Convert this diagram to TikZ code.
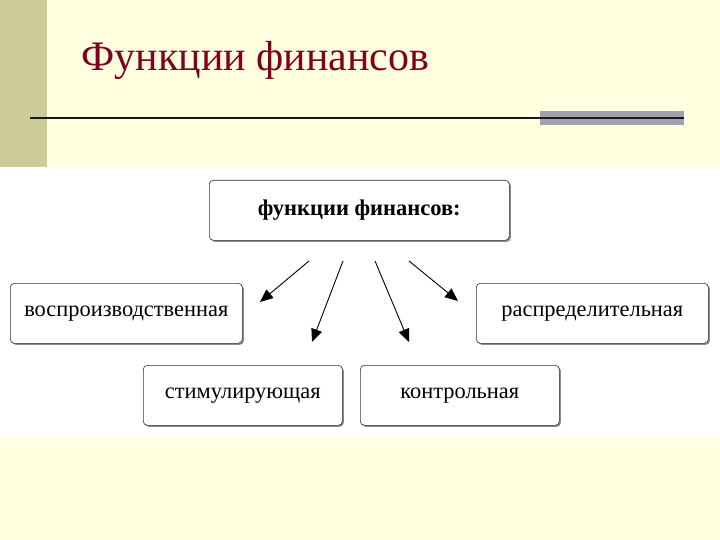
\documentclass[tikz,border=0pt]{standalone}
\usepackage{fontspec}
\setmainfont{Liberation Serif}
\usetikzlibrary{arrows.meta,shadows}
\definecolor{bg}{HTML}{FFFFE0}
\definecolor{bar}{HTML}{CCCC99}
\definecolor{ttl}{HTML}{800020}
\definecolor{gbar}{HTML}{A0A0B0}
\tikzset{fbox/.style={draw=black!80,rounded corners=4pt,fill=white,line width=0.6pt,
  drop shadow={shadow xshift=1.5pt,shadow yshift=-1.5pt,fill=black!45,opacity=1},
  font=\fontsize{22.4}{26}\selectfont,anchor=north west,inner sep=0pt},
  arr/.style={-{Triangle[length=13pt,width=11pt]},line width=0.9pt}}
\begin{document}
\begin{tikzpicture}[x=1pt,y=-1pt]
\fill[bg] (0,0) rectangle (720,540);
\useasboundingbox (0,0) rectangle (720,540);
\fill[bar] (0,0) rectangle (47,167);
\fill[white] (0,167) rectangle (720,437);
\node[ttl,anchor=west,font=\fontsize{42}{46}\selectfont] (title) at (78,60) {Функции финансов};
\fill[gbar] (540,111) rectangle (684,125);
\draw[line width=1.3pt,black!90] (30,118) -- (684,118);
\node[fbox,minimum width=300pt,minimum height=60pt,font=\bfseries\fontsize{22.5}{26}\selectfont] (top) at (209,180) {функции финансов:};
\node[fbox,minimum width=232pt,minimum height=60pt] (l) at (10,283) {воспроизводственная};
\node[fbox,minimum width=232pt,minimum height=60pt] (r) at (476,283) {распределительная};
\node[fbox,minimum width=199pt,minimum height=60pt] (bl) at (143,365) {стимулирующая};
\node[fbox,minimum width=199pt,minimum height=60pt] (br) at (360,365) {контрольная};
\coordinate (s1) at (309,261); \coordinate (e1) at (260,302);
\coordinate (s2) at (343,261); \coordinate (e2) at (312,342);
\coordinate (s3) at (375,261); \coordinate (e3) at (409,342);
\coordinate (s4) at (409,261); \coordinate (e4) at (458,301);
\draw[arr] (s1) -- (e1);
\draw[arr] (s2) -- (e2);
\draw[arr] (s3) -- (e3);
\draw[arr] (s4) -- (e4);
\end{tikzpicture}
\end{document}
